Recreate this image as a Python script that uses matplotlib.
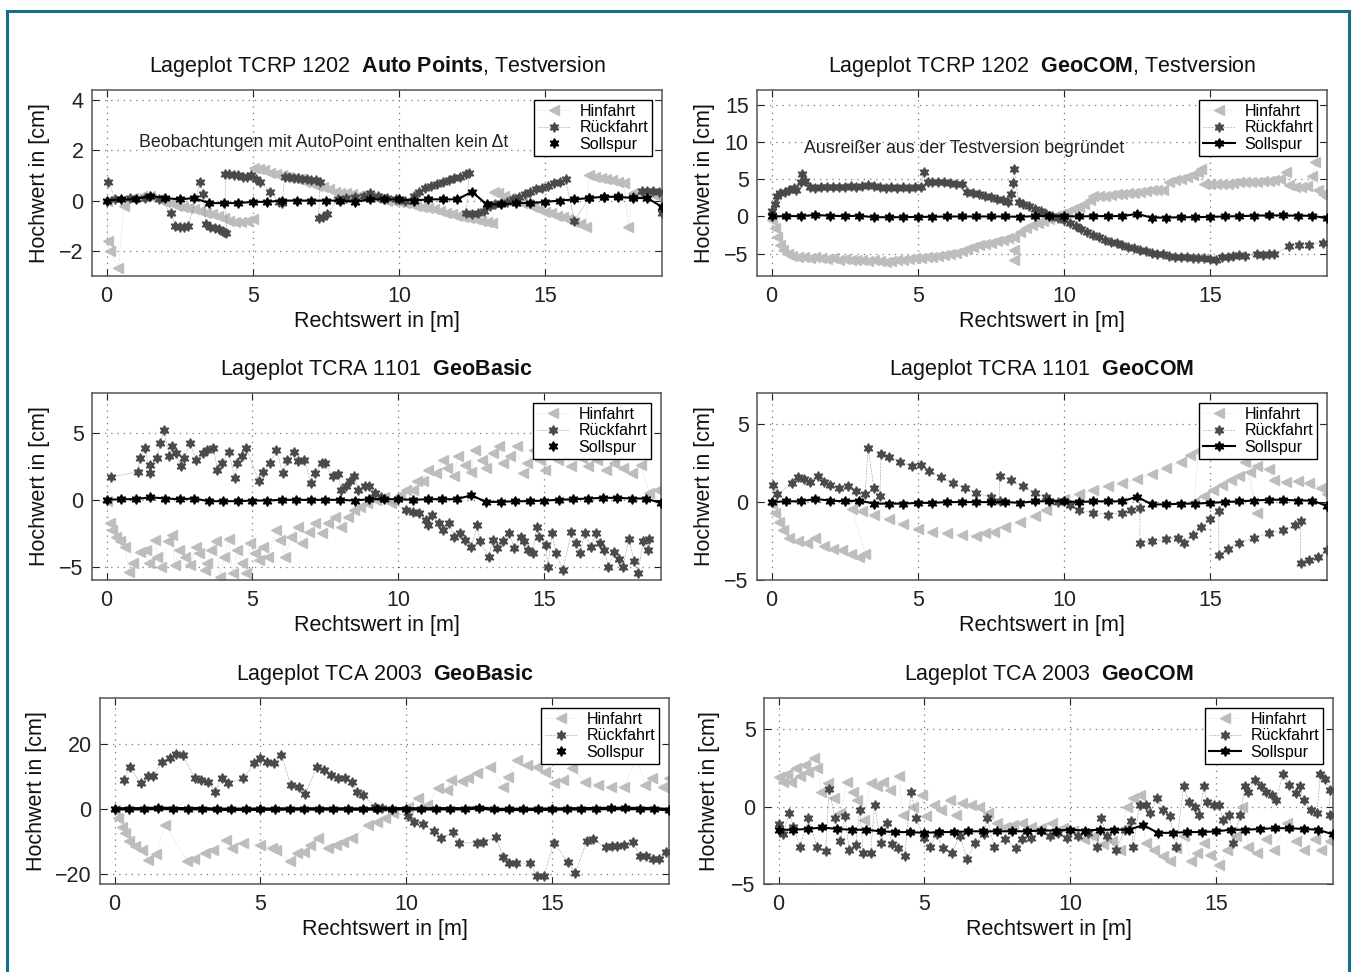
import numpy as np
import matplotlib
matplotlib.use("Agg")
import matplotlib.pyplot as plt
from matplotlib.lines import Line2D

plt.rcParams['font.family'] = ['Liberation Sans', 'DejaVu Sans']
plt.rcParams['mathtext.fontset'] = 'custom'
plt.rcParams['mathtext.rm'] = 'Liberation Sans'
plt.rcParams['mathtext.bf'] = 'Liberation Sans:bold'
plt.rcParams['mathtext.it'] = 'Liberation Sans:italic'

# ---------------- data (Rechtswert [m], Hochwert [cm]) ----------------
soll_x = [0, 0.5, 1, 1.5, 2, 2.5, 3, 3.5, 4, 4.5, 5, 5.5, 6, 6.5, 7, 7.5, 8, 8.5, 9, 9.5,
          10, 10.5, 11, 11.5, 12, 12.5, 13, 13.5, 14, 14.5, 15, 15.5, 16, 16.5, 17, 17.5,
          18, 18.5, 19]
soll_y = [0.0, 0.05, 0.05, 0.2, 0.1, 0.05, 0.1, -0.1, -0.1, -0.1, -0.05, -0.05, 0.0, 0.0,
          0.0, 0.0, 0.0, -0.05, 0.05, 0.05, 0.05, 0.0, 0.05, 0.05, 0.05, 0.35, -0.15, -0.15,
          -0.1, -0.1, -0.05, 0.0, 0.05, 0.1, 0.15, 0.15, 0.1, 0.1, -0.25]
soll_y_tca_com = [-1.5, -1.5, -1.45, -1.35, -1.45, -1.5, -1.5, -1.6, -1.65, -1.65, -1.7,
                  -1.65, -1.65, -1.6, -1.6, -1.6, -1.6, -1.6, -1.55, -1.55, -1.5, -1.55,
                  -1.5, -1.5, -1.5, -1.2, -1.7, -1.7, -1.65, -1.65, -1.6, -1.5, -1.5, -1.45,
                  -1.4, -1.4, -1.45, -1.5, -1.8]

tcrp_auto_hin = [(0.0, 0.0), (0.05, -1.6), (0.1, -2.0), (0.4, -2.7), (0.6, -0.2), (0.9, 0.1),
                 (1.2, 0.2), (1.5, 0.2), (1.8, 0.05), (2.0, -0.05), (2.2, -0.1), (2.4, -0.2),
                 (2.6, -0.25), (2.8, -0.3), (3.0, -0.35), (3.2, -0.4), (3.4, -0.5), (3.6, -0.55),
                 (3.8, -0.6), (4.0, -0.7), (4.2, -0.8), (4.4, -0.85), (4.6, -0.85), (4.8, -0.8),
                 (5.0, -0.75), (5.05, 1.3), (5.2, 1.25), (5.4, 1.2), (5.6, 1.1), (5.8, 1.05),
                 (6.0, 1.0), (6.2, 0.95), (6.4, 0.9), (6.6, 0.85), (6.8, 0.75), (7.0, 0.7),
                 (7.2, 0.6), (7.4, 0.55), (7.6, 0.45), (7.8, 0.35), (8.0, 0.3), (8.2, 0.3),
                 (8.4, 0.25), (8.6, 0.2), (8.8, 0.2), (9.0, 0.15), (9.2, 0.1), (9.4, 0.05),
                 (9.6, 0.0), (9.8, 0.0), (10.0, -0.05), (10.2, -0.1), (10.4, -0.15), (10.6, -0.2),
                 (10.8, -0.25), (11.0, -0.3), (11.2, -0.35), (11.4, -0.4), (11.6, -0.5),
                 (11.8, -0.55), (12.0, -0.6), (12.2, -0.65), (12.4, -0.7), (12.6, -0.75),
                 (12.8, -0.8), (13.0, -0.85), (13.2, -0.9), (13.25, 0.35), (13.4, 0.3),
                 (13.6, 0.2), (13.8, 0.1), (14.0, 0.0), (14.2, -0.1), (14.4, -0.15),
                 (14.6, -0.25), (14.8, -0.35), (15.0, -0.45), (15.2, -0.5), (15.4, -0.6),
                 (15.6, -0.65), (15.8, -0.75), (16.0, -0.85), (16.2, -0.95), (16.4, -1.05),
                 (16.5, 1.0), (16.7, 0.95), (16.9, 0.9), (17.1, 0.85), (17.3, 0.8), (17.5, 0.75),
                 (17.7, 0.7), (17.85, -1.05), (18.0, 0.3), (18.2, 0.3), (18.4, 0.25),
                 (18.6, 0.3), (18.8, 0.2), (19.0, 0.15)]
tcrp_auto_rueck = [(0.05, 0.75), (0.3, 0.05), (0.8, 0.1), (1.3, 0.1), (1.8, 0.05), (2.2, -0.5),
                   (2.35, -1.0), (2.5, -1.05), (2.65, -1.05), (2.8, -1.0), (3.2, 0.75),
                   (3.3, 0.25), (3.4, -0.95), (3.55, -1.05), (3.7, -1.1), (3.85, -1.15),
                   (4.0, -1.25), (4.1, -1.3), (4.05, 1.05), (4.2, 1.05), (4.35, 1.0),
                   (4.5, 1.0), (4.65, 0.95), (4.8, 0.95), (4.95, 1.0), (5.1, 0.85), (5.25, 0.75),
                   (5.6, 0.35), (5.9, -0.05), (6.0, -0.1), (6.1, 0.95), (6.25, 0.95), (6.4, 0.9),
                   (6.55, 0.9), (6.7, 0.85), (6.85, 0.85), (7.0, 0.8), (7.15, 0.8), (7.3, 0.75),
                   (7.25, -0.7), (7.4, -0.65), (7.55, -0.55), (7.9, 0.05), (8.2, 0.1),
                   (8.5, 0.15), (8.8, 0.2), (9.0, 0.3), (9.3, 0.2), (9.6, 0.1), (9.9, 0.05),
                   (10.2, 0.0), (10.5, 0.2), (10.7, 0.35), (10.9, 0.5), (11.1, 0.6), (11.3, 0.65),
                   (11.5, 0.75), (11.7, 0.8), (11.9, 0.9), (12.1, 0.95), (12.3, 1.05),
                   (12.4, 1.1), (12.3, -0.5), (12.5, -0.55), (12.7, -0.5), (12.9, -0.4),
                   (13.1, -0.2), (13.3, -0.15), (13.5, -0.1), (13.7, -0.05), (13.9, 0.05),
                   (14.1, 0.15), (14.3, 0.25), (14.5, 0.35), (14.7, 0.45), (14.9, 0.5),
                   (15.1, 0.6), (15.3, 0.7), (15.5, 0.75), (15.7, 0.85), (16.0, -0.8),
                   (16.5, 0.1), (17.0, 0.15), (17.5, 0.2), (18.0, 0.15), (18.3, 0.4), (18.5, 0.4),
                   (18.7, 0.4), (18.9, 0.35), (19.0, -0.5)]

tcrp_com_hin = [(0.0, -0.5), (0.1, -1.5), (0.2, -2.8), (0.3, -3.8), (0.4, -4.5), (0.55, -5.0),
                (0.7, -5.3), (0.9, -5.4), (1.1, -5.5), (1.3, -5.6), (1.5, -5.5), (1.7, -5.6),
                (1.9, -5.7), (2.1, -5.6), (2.3, -5.8), (2.5, -5.7), (2.7, -5.9), (2.9, -5.8),
                (3.1, -5.9), (3.3, -6.0), (3.5, -5.9), (3.7, -6.0), (3.9, -6.1), (4.1, -6.0),
                (4.3, -5.9), (4.5, -5.8), (4.7, -5.7), (4.9, -5.6), (5.1, -5.6), (5.3, -5.5),
                (5.5, -5.4), (5.7, -5.3), (5.9, -5.2), (6.1, -5.1), (6.3, -4.9), (6.5, -4.7),
                (6.7, -4.4), (6.9, -4.1), (7.1, -3.9), (7.3, -3.7), (7.5, -3.5), (7.7, -3.3),
                (7.9, -3.1), (8.1, -2.9), (8.3, -2.7), (8.3, -4.5), (8.3, -5.9), (8.5, -2.1),
                (8.7, -1.6), (8.9, -1.2), (9.1, -0.9), (9.3, -0.6), (9.5, -0.3), (9.7, 0.0),
                (9.9, 0.3), (10.1, 0.6), (10.3, 1.0), (10.5, 1.3), (10.7, 1.7), (10.9, 2.2),
                (11.0, 2.8), (11.2, 2.7), (11.4, 2.8), (11.6, 2.9), (11.8, 3.0), (12.0, 3.0),
                (12.2, 3.1), (12.4, 3.2), (12.6, 3.3), (12.8, 3.4), (13.0, 3.5), (13.2, 3.5),
                (13.4, 3.6), (13.6, 4.6), (13.8, 4.9), (14.0, 5.1), (14.2, 5.3), (14.4, 5.6),
                (14.6, 6.0), (14.7, 6.4), (14.8, 4.4), (15.0, 4.3), (15.2, 4.3), (15.4, 4.4),
                (15.6, 4.4), (15.8, 4.5), (16.0, 4.6), (16.2, 4.6), (16.4, 4.7), (16.6, 4.7),
                (16.8, 4.8), (17.0, 4.8), (17.2, 4.9), (17.4, 5.0), (17.6, 6.0), (17.7, 4.2),
                (17.9, 4.0), (18.1, 4.0), (18.3, 4.1), (18.5, 5.5), (18.6, 7.3), (18.7, 3.6),
                (18.85, 3.0), (19.0, 2.6)]
tcrp_com_rueck = [(0.0, 0.8), (0.1, 1.7), (0.2, 2.8), (0.3, 3.2), (0.45, 3.3), (0.6, 3.5),
                  (0.75, 3.8), (0.85, 3.6), (1.0, 4.6), (1.05, 5.7), (1.15, 4.8), (1.3, 3.9),
                  (1.5, 3.8), (1.7, 3.9), (1.9, 3.9), (2.1, 4.0), (2.3, 3.9), (2.5, 4.0),
                  (2.7, 4.1), (2.9, 4.0), (3.1, 4.1), (3.3, 4.2), (3.5, 4.1), (3.7, 3.9),
                  (3.9, 3.8), (4.1, 3.9), (4.3, 3.8), (4.5, 3.9), (4.7, 3.8), (4.9, 3.9),
                  (5.1, 3.9), (5.2, 6.0), (5.35, 4.7), (5.5, 4.7), (5.7, 4.6), (5.9, 4.6),
                  (6.1, 4.5), (6.3, 4.4), (6.5, 4.3), (6.7, 3.3), (6.9, 3.1), (7.1, 3.0),
                  (7.3, 2.8), (7.5, 2.6), (7.7, 2.4), (7.9, 2.2), (8.1, 2.0), (8.2, 3.0),
                  (8.25, 4.5), (8.3, 6.4), (8.45, 1.9), (8.6, 1.7), (8.8, 1.4), (9.0, 1.0),
                  (9.2, 0.7), (9.4, 0.4), (9.6, 0.1), (9.8, -0.2), (10.0, -0.5), (10.2, -0.9),
                  (10.4, -1.3), (10.6, -1.7), (10.8, -2.1), (11.0, -2.5), (11.2, -2.8),
                  (11.4, -3.1), (11.6, -3.4), (11.8, -3.6), (12.0, -3.8), (12.2, -4.1),
                  (12.4, -4.3), (12.6, -4.5), (12.8, -4.7), (13.0, -4.9), (13.2, -5.0),
                  (13.4, -5.1), (13.6, -5.3), (13.8, -5.4), (14.0, -5.4), (14.2, -5.5),
                  (14.4, -5.6), (14.6, -5.6), (14.8, -5.6), (15.0, -5.7), (15.2, -5.8),
                  (15.4, -5.5), (15.6, -5.4), (15.8, -5.3), (16.0, -5.2), (16.2, -5.3),
                  (16.6, -5.1), (16.8, -5.2), (17.0, -5.1), (17.2, -5.0), (17.7, -4.0),
                  (18.05, -3.8), (18.4, -3.8), (18.85, -3.5)]

tcra_basic_hin = [(0, -0.1), (0.1, -1.75), (0.2, -2.25), (0.33, -2.75), (0.47, -3.1),
                  (0.62, -3.5), (0.77, -5.4), (0.92, -4.75), (1.14, -3.9), (1.36, -3.75),
                  (1.44, -4.75), (1.66, -3.0), (1.73, -4.25), (1.88, -5.0), (2.1, -3.1),
                  (2.25, -2.6), (2.33, -4.9), (2.48, -3.75), (2.7, -4.25), (2.85, -4.9),
                  (3.07, -3.5), (3.15, -4.0), (3.37, -5.25), (3.44, -4.75), (3.59, -3.75),
                  (3.74, -3.1), (3.89, -5.75), (4.04, -4.25), (4.18, -2.9), (4.33, -5.5),
                  (4.48, -3.75), (4.63, -4.75), (4.78, -5.5), (4.93, -3.25), (5.07, -4.0),
                  (5.22, -4.5), (5.37, -3.5), (5.52, -4.25), (5.82, -2.25), (5.96, -3.0),
                  (6.11, -4.25), (6.33, -2.75), (6.56, -2.0), (6.7, -3.25), (6.93, -2.4),
                  (7.15, -1.75), (7.37, -2.5), (7.6, -1.75), (7.82, -1.25), (8.04, -2.0),
                  (8.26, -1.25), (8.49, -0.75), (8.7, -0.5), (8.93, -0.25), (9.23, 0.0),
                  (9.5, 0.25), (9.75, -0.25), (10.04, 0.4), (10.27, 0.75), (10.49, 0.75),
                  (10.64, 1.4), (10.86, 1.4), (11.0, 2.25), (11.3, 2.0), (11.53, 3.0),
                  (11.68, 2.4), (11.9, 1.75), (12.04, 3.25), (12.27, 2.6), (12.49, 2.1),
                  (12.64, 3.75), (12.86, 3.0), (13.0, 2.4), (13.23, 3.5), (13.46, 4.0),
                  (13.6, 2.75), (13.83, 3.25), (14.05, 4.0), (14.27, 2.0), (14.42, 2.75),
                  (14.64, 3.75), (14.86, 3.0), (15.01, 2.25), (15.24, 3.75), (15.46, 3.0),
                  (15.76, 3.5), (15.9, 2.5), (16.28, 3.1), (16.5, 2.5), (16.8, 3.0),
                  (17.1, 2.25), (17.4, 2.75), (17.7, 2.4), (18.0, 2.0), (18.3, 2.6),
                  (18.6, 0.5), (18.9, 0.75)]
tcra_basic_rueck = [(0.15, 1.7), (1.07, 2.1), (1.14, 3.1), (1.32, 3.9), (1.48, 2.0), (1.5, 2.6),
                    (1.73, 3.1), (1.84, 4.25), (1.96, 5.25), (2.15, 3.25), (2.25, 4.0),
                    (2.37, 3.5), (2.55, 2.5), (2.67, 3.1), (2.85, 4.25), (3.07, 3.0), (3.3, 3.5),
                    (3.45, 3.75), (3.66, 3.9), (3.8, 2.25), (3.96, 2.75), (4.18, 3.6),
                    (4.4, 1.6), (4.48, 2.75), (4.63, 3.3), (4.78, 3.9), (5.22, 1.4), (5.37, 2.1),
                    (5.6, 2.75), (5.82, 3.75), (6.04, 2.0), (6.19, 3.0), (6.41, 3.6),
                    (6.56, 2.9), (6.78, 3.0), (7.0, 1.25), (7.15, 2.0), (7.37, 2.75),
                    (7.48, 2.75), (7.75, 1.75), (7.94, 1.9), (8.04, 0.75), (8.2, 1.0),
                    (8.34, 1.4), (8.49, 1.75), (8.63, 0.75), (8.86, 1.0), (9.0, 1.0), (9.2, 0.5),
                    (9.4, 0.25), (10.27, -0.75), (10.49, -0.9), (10.71, -1.0), (10.93, -1.5),
                    (11.0, -1.9), (11.16, -1.1), (11.38, -1.75), (11.53, -2.25), (11.75, -1.75),
                    (11.9, -2.75), (12.12, -2.5), (12.27, -3.0), (12.5, -3.5), (12.71, -1.9),
                    (12.79, -3.1), (13.1, -4.25), (13.23, -3.0), (13.38, -3.6), (13.6, -3.1),
                    (13.8, -2.5), (13.97, -3.6), (14.2, -2.75), (14.3, -3.1), (14.45, -3.75),
                    (14.6, -4.0), (14.75, -2.0), (14.82, -2.75), (15.05, -3.4), (15.12, -5.0),
                    (15.27, -2.5), (15.4, -4.0), (15.64, -5.25), (15.93, -2.4), (16.08, -3.25),
                    (16.23, -4.0), (16.38, -2.5), (16.6, -3.5), (16.78, -2.5), (16.9, -3.25),
                    (17.05, -3.75), (17.2, -5.0), (17.4, -3.9), (17.55, -4.4), (17.7, -5.0),
                    (17.9, -2.9), (18.08, -4.6), (18.2, -5.5), (18.4, -3.1), (18.55, -3.75),
                    (18.6, -2.9)]

tcra_com_hin = [(0.0, -0.1), (0.1, -0.7), (0.25, -1.3), (0.4, -1.8), (0.6, -2.3), (0.9, -2.5),
                (1.2, -2.6), (1.5, -2.3), (1.8, -2.8), (2.1, -3.0), (2.4, -3.1), (2.7, -3.3),
                (3.0, -3.5), (3.2, -3.3), (2.75, -0.45), (3.1, -0.6), (3.5, -0.8), (4.0, -1.1),
                (4.5, -1.4), (5.0, -1.7), (5.5, -1.9), (6.0, -2.0), (6.5, -2.1), (7.0, -2.2),
                (7.3, -2.0), (7.6, -1.9), (8.0, -1.6), (8.5, -1.3), (9.0, -0.9), (9.4, -0.5),
                (10.0, 0.2), (10.5, 0.5), (11.0, 0.8), (11.5, 1.0), (12.0, 1.2), (12.5, 1.5),
                (13.0, 1.8), (13.5, 2.2), (14.0, 2.6), (14.3, 3.0), (14.6, 3.3), (14.45, 0.0),
                (14.8, 0.4), (15.1, 0.8), (15.4, 1.1), (15.7, 1.4), (16.0, 1.7), (16.35, 1.9),
                (16.6, -0.7), (16.2, 2.6), (16.6, 2.3), (17.0, 2.1), (17.2, 1.4), (17.6, 1.3),
                (18.0, 1.35), (18.4, 1.2), (18.8, 0.9), (19.0, 0.5)]
tcra_com_rueck = [(0.05, 1.1), (0.2, 0.5), (0.7, 1.2), (0.9, 1.6), (1.1, 1.5), (1.3, 1.3),
                  (1.6, 1.7), (1.8, 1.3), (2.0, 1.1), (2.3, 0.9), (2.6, 1.0), (2.9, 0.7),
                  (3.2, 0.5), (3.3, 3.5), (3.5, 0.9), (3.7, 0.4), (3.75, 3.1), (4.0, 2.9),
                  (4.4, 2.6), (4.8, 2.3), (5.1, 2.4), (5.4, 2.0), (5.8, 1.6), (6.2, 1.2),
                  (6.6, 0.9), (7.0, 0.6), (7.5, 0.3), (7.8, 0.1), (7.8, 1.7), (8.2, 1.4),
                  (8.6, 1.0), (9.0, 0.6), (9.4, 0.3), (9.8, 0.0), (10.2, -0.2), (10.5, -0.5),
                  (11.0, -0.7), (11.5, -0.8), (12.0, -0.7), (12.3, -0.5), (12.6, -0.4),
                  (12.6, -2.6), (13.0, -2.5), (13.5, -2.4), (13.9, -2.3), (14.1, -2.6),
                  (14.4, -2.1), (14.7, -1.6), (15.0, -1.1), (15.3, -0.6), (15.3, -3.4),
                  (15.6, -3.0), (16.0, -2.6), (16.5, -2.3), (17.0, -2.0), (17.5, -1.8),
                  (17.9, -1.5), (18.1, -1.2), (18.1, -3.9), (18.4, -3.7), (18.7, -3.5),
                  (19.0, -3.1)]

tca_basic_hin = [(0, -0.3), (0.12, -2.9), (0.24, -5.4), (0.34, -7.4), (0.49, -9.7), (0.71, -11.5),
                 (0.93, -12.6), (1.16, -15.6), (1.42, -13.8), (1.72, -4.9), (2.49, -15.8),
                 (2.71, -15.4), (3.11, -13.6), (3.38, -12.6), (3.82, -9.5), (4.04, -12.0),
                 (4.41, -10.5), (5.0, -11.0), (5.38, -12.0), (5.53, -12.6), (6.01, -16.1),
                 (6.24, -13.6), (6.49, -13.1), (6.71, -11.0), (6.98, -9.0), (7.3, -12.0),
                 (7.6, -11.0), (7.82, -10.0), (8.15, -9.0), (8.68, -4.9), (8.98, -3.9),
                 (9.27, -2.9), (9.53, -1.3), (10.04, 0.7), (10.41, 3.3), (10.71, 1.2),
                 (11.08, 6.3), (11.38, 5.8), (11.53, 8.9), (11.9, 8.7), (12.12, 9.6),
                 (12.41, 10.9), (12.86, 13.0), (13.3, 6.8), (13.48, 9.9), (13.78, 15.0),
                 (14.12, 13.5), (14.46, 13.0), (14.76, 11.4), (15.05, 8.1), (15.38, 8.9),
                 (15.67, 12.4), (16.12, 8.4), (16.56, 7.3), (17.0, 6.8), (17.45, 6.8),
                 (17.9, 15.5), (18.19, 7.3), (18.41, 9.4), (18.79, 6.8), (19.0, 9.4)]
tca_basic_rueck = [(0.31, 8.9), (0.52, 12.8), (0.89, 7.9), (1.16, 10.1), (1.33, 10.1), (1.63, 14.5),
                   (1.9, 15.5), (2.12, 16.8), (2.34, 16.5), (2.74, 9.6), (2.96, 8.9), (3.2, 8.4),
                   (3.45, 5.3), (3.67, 9.6), (3.9, 7.9), (4.41, 9.4), (4.79, 14.0), (5.0, 15.5),
                   (5.23, 14.5), (5.45, 14.0), (5.72, 16.5), (6.04, 7.3), (6.31, 6.8),
                   (6.53, 4.6), (6.93, 12.8), (7.16, 11.9), (7.41, 10.4), (7.64, 9.4),
                   (7.9, 9.6), (8.12, 8.4), (8.31, 5.3), (8.53, 4.3), (8.93, 0.7), (9.16, 0.2),
                   (10.04, -2.3), (10.27, -3.9), (10.56, -4.6), (10.93, -6.9), (11.2, -8.8),
                   (11.6, -7.2), (11.79, -10.5), (12.41, -10.3), (12.64, -10.0), (13.08, -8.7),
                   (13.3, -14.6), (13.53, -16.6), (13.75, -16.6), (14.22, -16.6), (14.49, -20.5),
                   (14.71, -20.5), (15.05, -10.3), (15.53, -16.2), (15.79, -19.5), (16.19, -9.7),
                   (16.39, -9.3), (16.83, -11.8), (17.04, -11.5), (17.23, -11.5), (17.45, -11.0),
                   (17.75, -10.0), (18.01, -14.4), (18.22, -14.4), (18.46, -15.4),
                   (18.67, -15.4), (18.9, -13.1)]

tca_com_hin = [(0.03, 1.9), (0.15, 1.6), (0.29, 2.1), (0.44, 1.6), (0.59, 2.5), (0.73, 2.0),
               (0.91, 2.7), (1.02, 2.25), (1.2, 3.1), (1.32, 2.5), (1.46, 0.96), (1.68, 1.5),
               (1.9, 0.54), (2.12, -0.43), (2.34, 1.6), (2.56, 0.96), (2.7, 0.43), (2.93, -0.86),
               (3.15, 1.5), (3.37, 1.3), (3.59, 1.6), (3.81, 1.07), (4.13, 2.0), (4.25, -0.54),
               (4.61, 0.0), (4.9, 0.75), (5.05, -0.64), (5.34, 0.1), (5.56, -0.2), (5.86, 0.43),
               (6.08, -0.54), (6.3, 0.2), (6.59, 0.1), (6.88, 0.0), (7.17, -0.43), (7.47, -1.07),
               (7.76, -1.3), (8.05, -1.2), (8.35, -1.07), (8.64, -1.3), (9.0, -1.4), (9.37, -1.07),
               (9.74, -1.4), (10.1, -1.6), (10.47, -2.1), (10.76, -1.9), (11.13, -2.45),
               (11.42, -2.25), (11.71, -2.8), (11.93, 0.0), (12.15, 0.54), (12.37, 0.75),
               (12.59, -2.35), (12.88, -2.8), (13.18, -3.2), (13.4, -3.5), (13.62, -2.7),
               (13.91, -1.9), (14.13, -3.5), (14.35, -3.0), (14.57, -2.35), (14.79, -3.1),
               (15.11, -3.75), (15.37, -2.8), (15.67, -1.9), (15.89, 0.0), (16.1, -2.6),
               (16.4, -3.0), (16.69, -2.1), (16.98, -2.8), (17.42, -1.07), (17.72, -2.25),
               (18.0, -2.8), (18.37, -2.1), (18.59, -2.8), (18.89, -2.25)]
tca_com_rueck = [(0.03, -1.1), (0.15, -1.8), (0.37, -0.4), (0.51, -1.3), (0.73, -2.6), (1.02, -0.75),
                 (1.32, -2.6), (1.61, -2.9), (1.73, 1.1), (1.93, -0.75), (2.12, -2.25),
                 (2.27, -0.64), (2.42, -2.8), (2.64, -2.5), (2.78, -0.2), (2.9, -3.0),
                 (3.15, -3.0), (3.29, 0.1), (3.51, -2.35), (3.73, -1.07), (3.88, -2.45),
                 (4.1, -2.7), (4.32, -3.2), (4.54, 0.96), (4.71, -0.75), (4.98, -2.0),
                 (5.2, -2.6), (5.42, -1.8), (5.64, -2.7), (5.93, -3.0), (6.22, -1.9),
                 (6.47, -3.4), (6.73, -2.35), (7.03, -1.8), (7.14, -0.75), (7.39, -2.6),
                 (7.76, -2.1), (8.13, -2.7), (8.35, -2.1), (8.64, -2.0), (9.0, -1.6),
                 (9.3, -1.9), (9.59, -1.7), (9.88, -2.0), (10.25, -1.9), (10.61, -1.7),
                 (10.9, -2.6), (11.05, -0.75), (11.27, -1.9), (11.57, -2.8), (11.86, -1.5),
                 (12.08, -0.96), (12.15, -2.6), (12.37, 0.1), (12.59, 0.1), (12.74, -0.4),
                 (12.96, 0.53), (13.18, -0.2), (13.4, -0.64), (13.62, -2.6), (13.88, 1.3),
                 (14.06, 0.32), (14.28, 0.0), (14.42, -0.54), (14.57, 1.3), (14.67, 0.32),
                 (14.93, 0.1), (15.08, 0.1), (15.23, -0.86), (15.45, -0.54), (15.59, -2.35),
                 (15.81, -0.54), (15.99, 1.3), (16.1, 0.96), (16.33, 1.7), (16.52, 1.3),
                 (16.69, 0.96), (16.91, 0.75), (17.06, 0.43), (17.28, 2.1), (17.5, 1.4),
                 (17.72, 0.86), (17.86, 1.3), (18.0, 0.43), (18.23, -0.2), (18.45, -0.43),
                 (18.57, 2.1), (18.74, 1.8), (18.89, 1.07), (18.89, -0.54)]

panels = [
    dict(title=r"Lageplot TCRP 1202  $\bf{Auto\ Points}$, Testversion", hin=tcrp_auto_hin,
         rueck=tcrp_auto_rueck, soll=soll_y, ylim=(-3, 4.4), yticks=[-2, 0, 2, 4],
         rect=(92, 90, 662, 276), soll_line_legend=False, ylab_x=-0.074,
         note=("Beobachtungen mit AutoPoint enthalten kein \u0394t", 1.1, 2.3)),
    dict(title=r"Lageplot TCRP 1202  $\bf{GeoCOM}$, Testversion", hin=tcrp_com_hin,
         rueck=tcrp_com_rueck, soll=soll_y, ylim=(-8, 17), yticks=[-5, 0, 5, 10, 15],
         rect=(757, 90, 1327, 276), soll_line_legend=True, ylab_x=-0.074,
         note=("Ausreißer aus der Testversion begründet", 1.1, 9.1)),
    dict(title=r"Lageplot TCRA 1101  $\bf{GeoBasic}$", hin=tcra_basic_hin,
         rueck=tcra_basic_rueck, soll=soll_y, ylim=(-6, 8), yticks=[-5, 0, 5],
         rect=(92, 393, 661, 580), soll_line_legend=False, ylab_x=-0.074, note=None),
    dict(title=r"Lageplot TCRA 1101  $\bf{GeoCOM}$", hin=tcra_com_hin,
         rueck=tcra_com_rueck, soll=soll_y, ylim=(-5, 7), yticks=[-5, 0, 5],
         rect=(757, 393, 1327, 580), soll_line_legend=True, ylab_x=-0.074, note=None),
    dict(title=r"Lageplot TCA 2003  $\bf{GeoBasic}$", hin=tca_basic_hin,
         rueck=tca_basic_rueck, soll=soll_y, ylim=(-23, 34), yticks=[-20, 0, 20],
         rect=(100, 698, 669, 884), soll_line_legend=False, ylab_x=-0.094, note=None),
    dict(title=r"Lageplot TCA 2003  $\bf{GeoCOM}$", hin=tca_com_hin,
         rueck=tca_com_rueck, soll=soll_y_tca_com, ylim=(-5, 7), yticks=[-5, 0, 5],
         rect=(764, 698, 1333, 884), soll_line_legend=True, ylab_x=-0.078, note=None),
]

HIN_COLOR = '#bdbdbd'
RUECK_COLOR = '#4a4a4a'
STAR = (6, 1, 0)
W, H = 1352, 972

fig = plt.figure(figsize=(W / 100, H / 100), dpi=100)

# teal frame around the page
for xs, ys in [([7 / W, 7 / W], [0, 1 - 11 / H]), ([7 / W, 1349 / W], [1 - 11 / H, 1 - 11 / H]),
               ([1349 / W, 1349 / W], [1 - 11 / H, 0])]:
    fig.add_artist(Line2D(xs, ys, color='#146e8c', lw=2.2, transform=fig.transFigure))

for p in panels:
    l, t, r, b = p['rect']
    ax = fig.add_axes([l / W, 1 - b / H, (r - l) / W, (b - t) / H])

    hx, hy = np.array(p['hin']).T
    rx, ry = np.array(p['rueck']).T
    ax.plot(hx, hy, color=HIN_COLOR, ls=':', lw=0.4, marker='<', ms=6.5,
            mec=HIN_COLOR, mfc=HIN_COLOR, label='Hinfahrt', zorder=2)
    ax.plot(rx, ry, color=RUECK_COLOR, ls=':', lw=0.4, marker=STAR, ms=7,
            mec=RUECK_COLOR, mfc=RUECK_COLOR, label='Rückfahrt', zorder=3)
    lw_soll = 2.5 if p['ylim'][1] > 30 else 1.5
    if p['soll_line_legend']:
        ax.plot(soll_x, p['soll'], color='black', lw=lw_soll, marker=STAR, ms=7,
                label='Sollspur', zorder=4)
    else:
        ax.plot(soll_x, p['soll'], color='black', lw=lw_soll, zorder=4)
        ax.plot(soll_x, p['soll'], color='black', ls='none', marker=STAR, ms=7,
                label='Sollspur', zorder=4)

    ax.set_xlim(-0.5, 19)
    ax.set_ylim(*p['ylim'])
    ax.set_xticks([0, 5, 10, 15])
    ax.set_yticks(p['yticks'])
    ax.grid(True, color='#777777', ls=(0, (1, 4)), lw=0.9)
    ax.tick_params(direction='in', length=5, width=0.8, top=True, right=True,
                   labelsize=15.5, colors='#222222')
    ax.tick_params(axis='x', pad=7)
    ax.tick_params(axis='y', pad=6)
    for s in ax.spines.values():
        s.set_color('#555555')
        s.set_linewidth(1.1)

    ax.set_title(p['title'], fontsize=15.5, pad=13, color='#111111')
    ax.set_xlabel('Rechtswert in [m]', fontsize=15.5, labelpad=3, color='#111111')
    ax.set_ylabel('Hochwert in [cm]', fontsize=15.5, color='#111111')
    ax.yaxis.set_label_coords(p['ylab_x'], 0.5)

    if p['note']:
        txt, nx, ny = p['note']
        ax.text(nx, ny, txt, fontsize=12.8, va='center', ha='left', color='#222222')

    leg = ax.legend(loc='upper right', fontsize=11.5, frameon=True, fancybox=False,
                    edgecolor='black', framealpha=1, borderpad=0.25, labelspacing=0.1,
                    handlelength=2.0, handletextpad=0.6, borderaxespad=0.6)
    leg.get_frame().set_linewidth(1.0)

fig.savefig('out.png', dpi=100)
